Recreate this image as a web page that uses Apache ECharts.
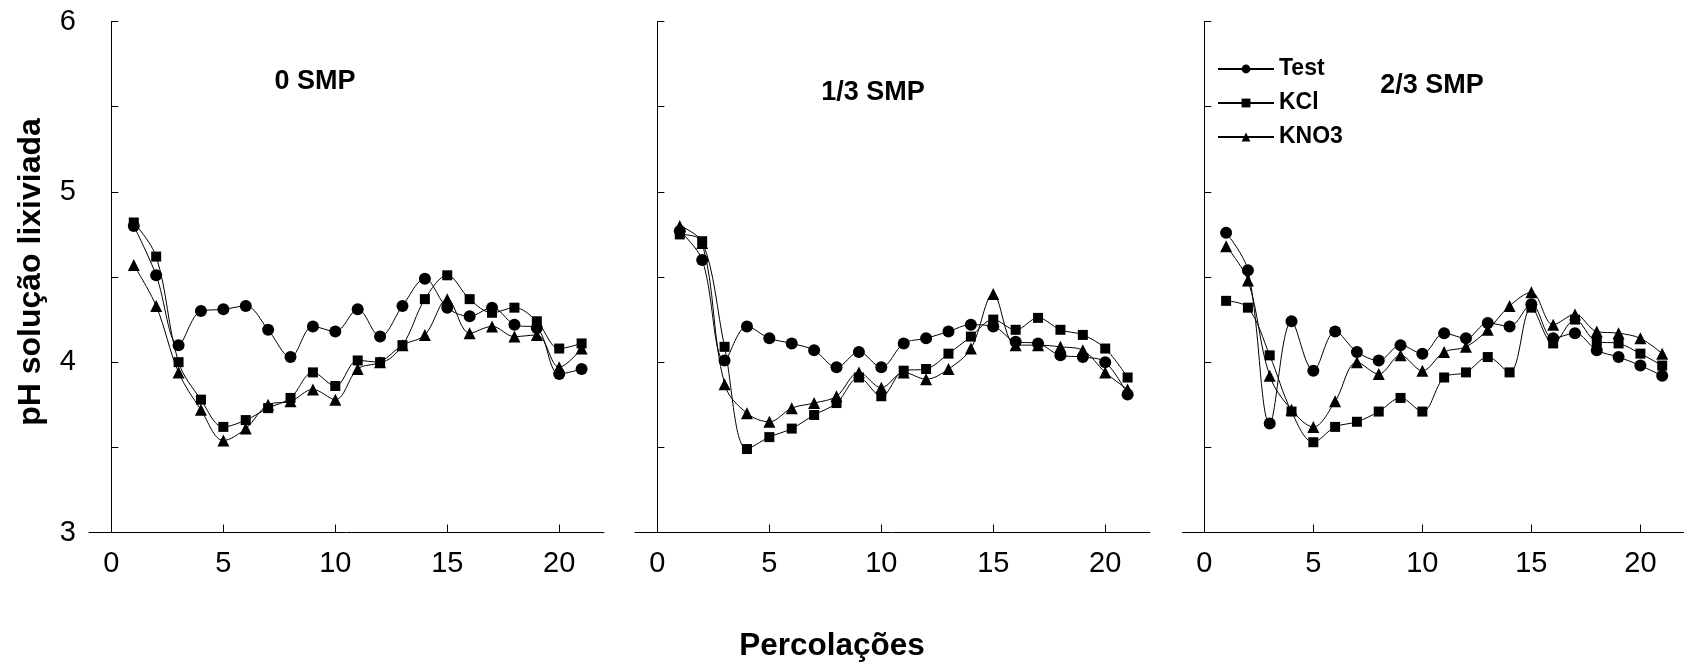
<!DOCTYPE html>
<html>
<head>
<meta charset="utf-8">
<script src="https://cdn.jsdelivr.net/npm/echarts@6/dist/echarts.min.js"></script>
<style>
html,body{margin:0;padding:0;background:#fff;}
#chart{width:1684px;height:664px;}
</style>
</head>
<body>
<div id="chart"></div>
<script>
// ---- data ----
const percolacoes = [1,2,3,4,5,6,7,8,9,10,11,12,13,14,15,16,17,18,19,20,21];
const panelTitles = ['0 SMP', '1/3 SMP', '2/3 SMP'];
const seriesNames = ['Test', 'KCl', 'KNO3'];
const xTicks = [0, 5, 10, 15, 20];

// 0 SMP
const test0 = [4.80,4.51,4.10,4.30,4.31,4.33,4.19,4.03,4.21,4.18,4.31,4.15,4.33,4.49,4.32,4.27,4.32,4.22,4.20,3.93,3.96];
const kcl0  = [4.82,4.62,4.00,3.78,3.62,3.66,3.73,3.79,3.94,3.86,4.01,4.00,4.10,4.37,4.51,4.37,4.29,4.32,4.24,4.08,4.11];
const kno30 = [4.57,4.33,3.94,3.72,3.54,3.61,3.75,3.77,3.84,3.78,3.96,4.00,4.10,4.16,4.37,4.17,4.21,4.15,4.16,3.97,4.08];
// 1/3 SMP
const test1 = [4.77,4.60,4.01,4.21,4.14,4.11,4.07,3.97,4.06,3.97,4.11,4.14,4.18,4.22,4.21,4.12,4.11,4.04,4.03,4.00,3.81];
const kcl1  = [4.75,4.71,4.09,3.49,3.56,3.61,3.69,3.76,3.91,3.80,3.95,3.96,4.05,4.15,4.25,4.19,4.26,4.19,4.16,4.08,3.91];
const kno31 = [4.80,4.70,3.87,3.70,3.65,3.73,3.76,3.80,3.94,3.85,3.94,3.90,3.96,4.08,4.40,4.10,4.10,4.09,4.07,3.94,3.84];
// 2/3 SMP
const test2 = [4.76,4.54,3.64,4.24,3.95,4.18,4.06,4.01,4.10,4.05,4.17,4.14,4.23,4.21,4.34,4.14,4.17,4.07,4.03,3.98,3.92];
const kcl2  = [4.36,4.32,4.04,3.71,3.53,3.62,3.65,3.71,3.79,3.71,3.91,3.94,4.03,3.94,4.32,4.11,4.25,4.12,4.11,4.05,3.98];
const kno32 = [4.68,4.48,3.92,3.72,3.62,3.77,4.00,3.93,4.04,3.95,4.06,4.09,4.19,4.33,4.41,4.22,4.28,4.18,4.17,4.14,4.05];

const panels = [[test0,kcl0,kno30],[test1,kcl1,kno31],[test2,kcl2,kno32]];
const symbols = ['circle','rect','triangle'];
const symbolSizes = [12,10,12];

const FONT = '"Liberation Sans", Arial, Helvetica, sans-serif';
const gridLefts = [89, 635, 1182.5];

const grids = [], xAxes = [], yAxes = [], series = [];
gridLefts.forEach((l, i) => {
  grids.push({left: l, top: 21.5, width: 515, height: 511, containLabel: false});
  xAxes.push({
    type: 'value', gridIndex: i, min: -1, max: 22,
    axisLine: {show: true, lineStyle: {color: '#000', width: 1}},
    axisTick: {show: true, inside: true, length: 8, customValues: xTicks, lineStyle: {color: '#000'}},
    axisLabel: {show: true, customValues: xTicks, color: '#000', fontSize: 29, fontFamily: FONT, margin: 17},
    splitLine: {show: false}
  });
  yAxes.push({
    type: 'value', gridIndex: i, min: 3, max: 6, interval: 0.5,
    axisLine: {show: true, lineStyle: {color: '#000', width: 1}},
    axisTick: {show: true, inside: true, length: 7, lineStyle: {color: '#000'}},
    axisLabel: {show: i === 0, color: '#000', fontSize: 29, fontFamily: FONT, margin: 13,
      formatter: v => (Math.abs(v - Math.round(v)) < 1e-6 ? String(Math.round(v)) : '')},
    splitLine: {show: false}
  });
  panels[i].forEach((vals, k) => {
    series.push({
      name: seriesNames[k], type: 'line', xAxisIndex: i, yAxisIndex: i,
      data: percolacoes.map((x, j) => [x, vals[j]]),
      smooth: 0.35, symbol: symbols[k], symbolSize: symbolSizes[k], showSymbol: true,
      itemStyle: {color: '#000'}, lineStyle: {color: '#000', width: 1},
      emphasis: {disabled: true}, z: 3 - k
    });
  });
});

const titleY = [82, 93, 86];
const titleX = [315, 873, 1432];
const graphics = panelTitles.map((t, i) => ({
  type: 'text', x: titleX[i], y: titleY[i],
  style: {text: t, fill: '#000', font: 'bold 27px ' + FONT, textAlign: 'center', textVerticalAlign: 'middle'}
}));
graphics.push({
  type: 'text', x: 31, y: 272, rotation: Math.PI / 2,
  style: {text: 'pH solução lixiviada', fill: '#000', font: 'bold 32px ' + FONT, textAlign: 'center', textVerticalAlign: 'middle'}
});
graphics.push({
  type: 'text', x: 832, y: 646,
  style: {text: 'Percolações', fill: '#000', font: 'bold 31.5px ' + FONT, textAlign: 'center', textVerticalAlign: 'middle'}
});

const chart = echarts.init(document.getElementById('chart'), null, {renderer: 'canvas'});
chart.setOption({
  animation: false,
  backgroundColor: '#fff',
  grid: grids, xAxis: xAxes, yAxis: yAxes, series: series,
  legend: {
    data: seriesNames, orient: 'vertical', left: 1212, top: 52,
    itemWidth: 56, itemHeight: 11, itemGap: 10, selectedMode: false,
    textStyle: {color: '#000', fontSize: 23, fontWeight: 'bold', fontFamily: FONT, lineHeight: 24}
  },
  graphic: graphics
});
</script>
</body>
</html>
